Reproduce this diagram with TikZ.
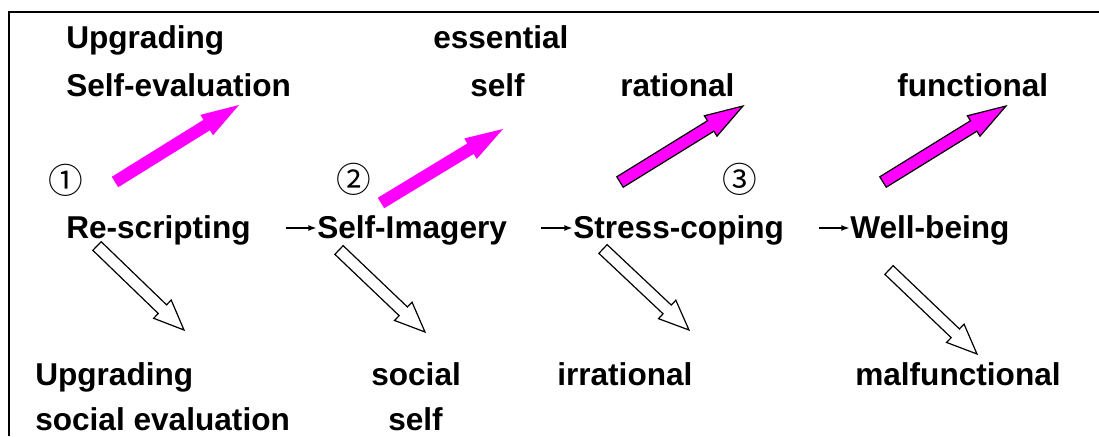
\documentclass[tikz,border=0pt]{standalone}
\usepackage{fontspec}
\setmainfont{Liberation Sans}
\newfontfamily\cjkfont{Noto Sans CJK JP}
\usetikzlibrary{calc,arrows.meta}
\definecolor{mag}{RGB}{255,0,255}
\tikzset{
  lbl/.style={anchor=base west,inner sep=0pt,font=\fontsize{23.7}{28}\selectfont\bfseries},
  num/.style={inner sep=0pt,font=\fontsize{26}{30}\selectfont\cjkfont},
  smallarr/.style={line width=1.3pt,-{Latex[length=6.5pt,width=4.5pt]}},
  magarr/.style={fill=mag,draw=none},
  magarrline/.style={fill=mag,draw=black,line width=0.9pt,line join=miter},
  whitearr/.style={fill=white,draw=black,line width=0.9pt,line join=miter}
}
\newcommand\blockarr[6]{% style, tail, tip, shaft half, head half, head length
  \coordinate (hb) at ($(#3)!#6!(#2)$);
  \draw[#1] ($(#2)!#4!90:(#3)$) -- ($(hb)!#4!90:(#3)$) -- ($(hb)!#5!90:(#3)$) -- (#3)
    -- ($(hb)!#5!-90:(#3)$) -- ($(hb)!#4!-90:(#3)$) -- ($(#2)!#4!-90:(#3)$) -- cycle;
}
\begin{document}
\begin{tikzpicture}[x=0.75pt,y=-0.75pt]
\useasboundingbox (0,0) rectangle (1099,436);
% frame
\draw[line width=1.5pt] (9,436) -- (9,12) -- (1099,12);
% top labels
\node[lbl] (up1) at (66,48) {Upgrading};
\node[lbl] (se) at (66,96) {Self-evaluation};
\node[lbl] (ess) at (433,48) {essential};
\node[lbl] (sf1) at (470,96) {self};
\node[lbl] (rat) at (620,96) {rational};
\node[lbl] (fun) at (897,96) {functional};
% numbers
\node[num] (n1) at (66,180) {①};
\node[num] (n2) at (354,179) {②};
\node[num] (n3) at (740,179) {③};
% middle row
\node[lbl] (rs) at (66,238) {Re-scripting};
\node[lbl] (si) at (317,238) {Self-Imagery};
\node[lbl] (sc) at (573,238) {Stress-coping};
\node[lbl] (wb) at (850,238) {Well-being};
\coordinate (s1) at (286,228);
\coordinate (s2) at (541,228);
\coordinate (s3) at (819,228);
\draw[smallarr] (s1) -- (s1 -| si.west);
\draw[smallarr] (s2) -- (s2 -| sc.west);
\draw[smallarr] (s3) -- (s3 -| wb.west);
% bottom labels
\node[lbl] (up2) at (35,385) {Upgrading};
\node[lbl] (sev) at (35,430) {social evaluation};
\node[lbl] (soc) at (371,385) {social};
\node[lbl] (sf2) at (388,430) {self};
\node[lbl] (irr) at (557,385) {irrational};
\node[lbl] (mal) at (855,385) {malfunctional};
% magenta arrows
\coordinate (mt1) at (115,182); \coordinate (mh1) at (239,105);
\coordinate (mt2) at (381,203); \coordinate (mh2) at (503,129);
\coordinate (mt3) at (620,182); \coordinate (mh3) at (743,106);
\coordinate (mt4) at (883,182); \coordinate (mh4) at (1006,106);
\blockarr{magarr}{mt1}{mh1}{4.6pt}{9pt}{28.5pt}
\blockarr{magarr}{mt2}{mh2}{4.6pt}{9pt}{28.5pt}
\blockarr{magarrline}{mt3}{mh3}{4.6pt}{9pt}{28.5pt}
\blockarr{magarrline}{mt4}{mh4}{4.6pt}{9pt}{28.5pt}
% white arrows
\coordinate (wt1) at (97,246); \coordinate (wh1) at (184,330);
\coordinate (wt2) at (339,250); \coordinate (wh2) at (425,332);
\coordinate (wt3) at (603,249); \coordinate (wh3) at (689,330);
\coordinate (wt4) at (889,270); \coordinate (wh4) at (977,354);
\blockarr{whitearr}{wt1}{wh1}{4.5pt}{9.5pt}{22.5pt}
\blockarr{whitearr}{wt2}{wh2}{4.5pt}{9.5pt}{22.5pt}
\blockarr{whitearr}{wt3}{wh3}{4.5pt}{9.5pt}{22.5pt}
\blockarr{whitearr}{wt4}{wh4}{4.5pt}{9.5pt}{22.5pt}
\end{tikzpicture}
\end{document}
